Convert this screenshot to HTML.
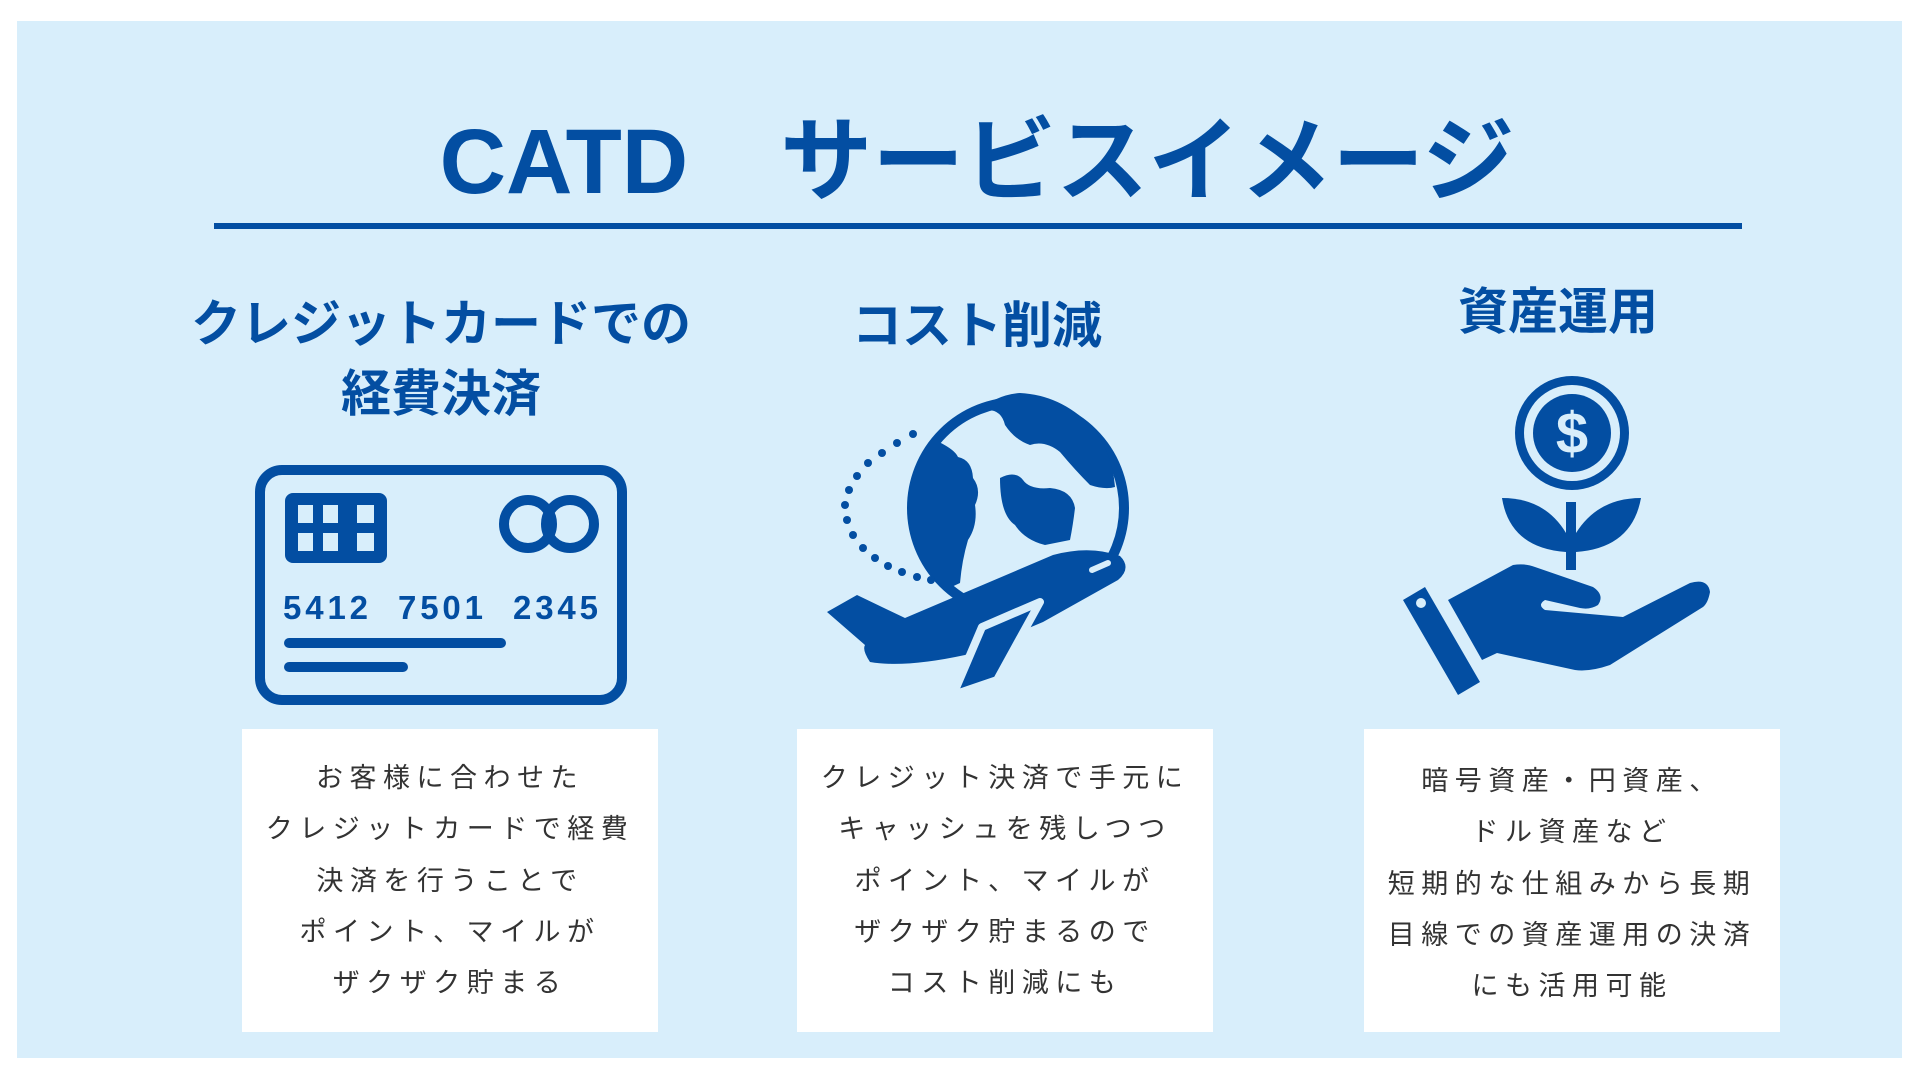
<!DOCTYPE html>
<html><head><meta charset="utf-8">
<style>
html,body{margin:0;padding:0;background:#fff;}
body{width:1920px;height:1080px;position:relative;overflow:hidden;font-family:"Liberation Sans","Noto Sans CJK JP",sans-serif;}
.bg{position:absolute;left:17px;top:21px;width:1885px;height:1037px;background:#d8eefb;}
.title{position:absolute;left:17px;width:1920px;top:102px;text-align:center;font-size:92px;font-weight:bold;color:#034ea2;line-height:120px;}
.line{position:absolute;left:214px;top:223px;width:1528px;height:6px;background:#034ea2;}
.h{position:absolute;text-align:center;font-size:50px;font-weight:bold;color:#034ea2;line-height:70px;}
.box{position:absolute;top:729px;width:416px;height:303px;background:#fff;}
.box p{margin:0;position:absolute;left:-10px;width:436px;text-align:center;font-size:27px;letter-spacing:6.5px;color:#333;line-height:51px;}
svg{position:absolute;left:0;top:0;}
</style></head><body>
<div class="bg"></div>
<div class="title">CATD　サービスイメージ</div>
<div class="line"></div>
<div class="h" style="left:141px;width:600px;top:289px;">クレジットカードでの<br>経費決済</div>
<div class="h" style="left:677px;width:600px;top:291px;">コスト削減</div>
<div class="h" style="left:1258px;width:600px;top:277px;">資産運用</div>

<svg width="1920" height="1080" viewBox="0 0 1920 1080">
<g fill="#034ea2">
<!-- card -->
<rect x="260" y="470" width="362" height="230" rx="22" fill="none" stroke="#034ea2" stroke-width="10"/>
<rect x="285" y="493" width="102" height="70" rx="8"/>
<g fill="#d8eefb"><rect x="298" y="505" width="15" height="18"/><rect x="298" y="533" width="15" height="18"/><rect x="323" y="505" width="15" height="18"/><rect x="323" y="533" width="15" height="18"/><rect x="357" y="505" width="17" height="18"/><rect x="357" y="533" width="17" height="18"/></g>
<circle cx="528" cy="524" r="24" fill="none" stroke="#034ea2" stroke-width="10"/>
<circle cx="570" cy="524" r="24" fill="none" stroke="#034ea2" stroke-width="10"/>
<text x="283" y="619" font-size="33" font-weight="bold" font-family="Liberation Sans, sans-serif" textLength="315" lengthAdjust="spacing" xml:space="preserve">5412  7501  2345</text>
<rect x="284" y="638" width="222" height="10" rx="5"/>
<rect x="284" y="662" width="124" height="10" rx="5"/>
<!-- globe -->
<circle cx="1018" cy="508" r="106" fill="none" stroke="#034ea2" stroke-width="10"/>
<path d="M939 442 Q955 450 958 457 Q972 460 973 478 Q982 490 975 505 Q978 525 968 540 Q962 560 960 583 L945 590 Q910 555 908 505 Q910 468 939 442Z"/>
<path d="M978 412 Q1000 405 1005 425 Q1015 440 1030 445 Q1045 440 1060 452 Q1075 470 1090 485 Q1105 490 1115 487 Q1112 450 1090 425 Q1060 395 1020 393 Q995 395 978 412Z"/>
<path d="M1000 478 Q1015 470 1023 480 Q1030 490 1050 488 Q1072 490 1075 508 Q1073 525 1070 540 L1045 545 Q1025 540 1015 525 Q1000 515 1000 478Z"/>
<g>
<circle cx="913" cy="434" r="4"/><circle cx="897" cy="443" r="4"/><circle cx="882" cy="453" r="4"/><circle cx="868" cy="463" r="4"/><circle cx="857" cy="476" r="4"/><circle cx="849" cy="490" r="4"/><circle cx="845" cy="505" r="4"/><circle cx="847" cy="520" r="4"/><circle cx="853" cy="535" r="4"/><circle cx="863" cy="548" r="4"/><circle cx="875" cy="558" r="4"/><circle cx="888" cy="566" r="4"/><circle cx="902" cy="572" r="4"/><circle cx="917" cy="577" r="4"/><circle cx="931" cy="580" r="4"/>
</g>
<path d="M827 612 L857 595 L905 618 L1053 555 Q1090 545 1120 556 Q1132 568 1118 580 L1043 622 L965 655 Q905 668 870 662 Q862 650 865 645 Z"/>
<path d="M982 627 L1040 602 L997 680 L953 695 Z" stroke="#d8eefb" stroke-width="8" stroke-linejoin="round"/>
<path d="M1092 570 L1108 563" stroke="#d8eefb" stroke-width="6" stroke-linecap="round"/>
<!-- hand/coin -->
<circle cx="1572" cy="433" r="57"/>
<circle cx="1572" cy="433" r="48" fill="#d8eefb"/>
<circle cx="1572" cy="433" r="39"/>
<text x="1572" y="453" text-anchor="middle" font-size="58" font-weight="bold" fill="#d8eefb" font-family="Liberation Sans, sans-serif">$</text>
<path d="M1502 498 Q1545 498 1566 533 L1566 552 Q1510 548 1502 498Z"/>
<path d="M1641 498 Q1598 498 1576 533 L1576 552 Q1632 548 1641 498Z"/>
<rect x="1566" y="502" width="10" height="68"/>
<path d="M1403 600 L1425 587 L1480 682 L1458 695 Z"/>
<circle cx="1421" cy="603" r="5" fill="#d8eefb"/>
<path d="M1448 600 L1513 565 Q1525 563 1535 567 L1593 587 Q1605 595 1598 605 Q1590 610 1580 608 L1545 600 Q1537 605 1545 610 L1623 617 L1690 583 Q1708 578 1710 592 Q1708 603 1703 607 L1610 665 Q1590 672 1575 670 L1497 653 L1482 660 Z"/>
</g>
</svg>

<div class="box" style="left:242px;">
<p style="top:24px">お客様に合わせた</p>
<p style="top:75px">クレジットカードで経費</p>
<p style="top:127px">決済を行うことで</p>
<p style="top:178px">ポイント、マイルが</p>
<p style="top:229px">ザクザク貯まる</p>
</div>
<div class="box" style="left:797px;">
<p style="top:24px">クレジット決済で手元に</p>
<p style="top:75px">キャッシュを残しつつ</p>
<p style="top:127px">ポイント、マイルが</p>
<p style="top:178px">ザクザク貯まるので</p>
<p style="top:229px">コスト削減にも</p>
</div>
<div class="box" style="left:1364px;">
<p style="top:27px">暗号資産・円資産、</p>
<p style="top:78px">ドル資産など</p>
<p style="top:130px">短期的な仕組みから長期</p>
<p style="top:181px">目線での資産運用の決済</p>
<p style="top:232px">にも活用可能</p>
</div>
</body></html>
